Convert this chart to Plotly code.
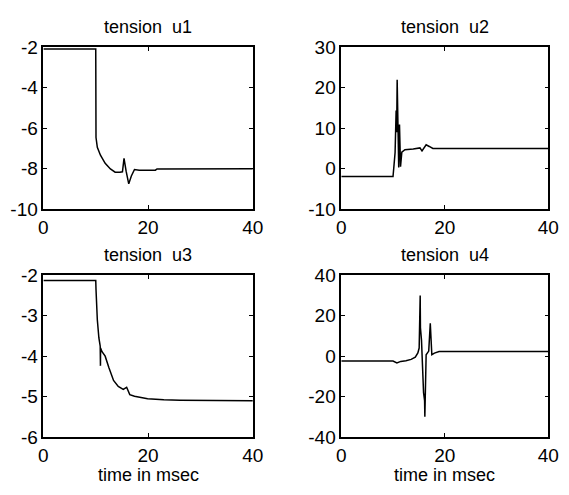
import plotly.graph_objects as go

# ---- data (time in msec, tension) ----
t1 = [0, 10.0, 10.05, 10.3, 10.9, 11.8, 12.8, 13.7, 14.6, 15.1, 15.4, 15.6, 15.8, 16.3, 16.8, 17.4, 18.3, 21.4, 21.7, 40]
u1 = [-2.08, -2.08, -6.46, -6.94, -7.33, -7.73, -8.01, -8.17, -8.17, -8.15, -7.49, -7.9, -8.12, -8.75, -8.36, -8.04, -8.07, -8.07, -8.01, -8.0]

t2 = [0, 10.0, 10.2, 10.4, 10.6, 10.7, 10.8, 11.0, 11.1, 11.25, 11.45, 11.7, 12.3, 13.9, 15.2, 15.6, 16.4, 17.0, 17.7, 40]
u2 = [-1.95, -1.95, 1.0, 4.0, 14.4, 9.0, 22.0, 3.0, 0.3, 10.9, 0.5, 4.1, 4.7, 4.9, 5.15, 4.4, 5.9, 5.5, 5.0, 5.0]

t3 = [0, 10.0, 10.05, 10.3, 10.6, 10.85, 10.9, 10.92, 11.2, 11.8, 12.5, 13.4, 14.3, 15.25, 15.9, 16.5, 17.4, 19.9, 23.0, 26.1, 40]
u3 = [-2.13, -2.13, -2.35, -3.1, -3.55, -3.75, -4.24, -3.8, -3.89, -4.0, -4.28, -4.6, -4.75, -4.82, -4.77, -4.95, -4.99, -5.05, -5.08, -5.09, -5.1]

t4 = [0, 10.0, 10.75, 11.5, 12.5, 13.5, 14.3, 14.8, 15.05, 15.1, 15.25, 15.3, 15.5, 15.9, 16.1, 16.15, 16.4, 16.9, 17.1, 17.2, 17.5, 18.0, 18.9, 40]
u4 = [-2.4, -2.4, -3.3, -2.6, -2.3, -1.6, -0.5, 1.6, 4.0, 15.5, 30.0, 14.0, 8.0, -18.0, -22.0, -30.0, 0.7, 2.5, 10.0, 16.3, 0.7, 1.5, 2.3, 2.3]

titles = ["tension  u1", "tension  u2", "tension  u3", "tension  u4"]
x_ticks = [0, 20, 40]
y_ranges = [[-10, -2], [-10, 30], [-6, -2], [-40, 40]]
y_ticks = [[-10, -8, -6, -4, -2], [-10, 0, 10, 20, 30], [-6, -5, -4, -3, -2], [-40, -20, 0, 20, 40]]
x_label = "time in msec"

series = [(t1, u1), (t2, u2), (t3, u3), (t4, u4)]

W, H = 569, 495
# frame boxes in pixels (left, right, top, bottom)
frames = [(39.5, 255, 39, 208), (346, 559, 39, 208), (39.5, 255, 277, 446), (346, 559, 277, 446)]

FONT = "Liberation Sans, Arial, sans-serif"
FS_TICK = 19
FS_TEXT = 18
fig = go.Figure()
layout = dict(
    width=W, height=H, margin=dict(l=0, r=0, t=0, b=0),
    paper_bgcolor="white", plot_bgcolor="white", showlegend=False,
    font=dict(family=FONT, size=FS_TICK, color="black"),
)
annotations = []
for i, ((tx, uy), (l, r, tp, bt)) in enumerate(zip(series, frames)):
    n = "" if i == 0 else str(i + 1)
    fig.add_trace(go.Scatter(x=tx, y=uy, mode="lines", xaxis="x" + n, yaxis="y" + n,
                             line=dict(color="black", width=1.5)))
    axcommon = dict(showline=True, linecolor="black", linewidth=1.5, mirror="ticks",
                    ticks="inside", ticklen=4, tickwidth=1, tickcolor="black",
                    showgrid=False, zeroline=False,
                    tickfont=dict(family=FONT, size=FS_TICK, color="black"))
    layout["xaxis" + n] = dict(axcommon, domain=[l / W, r / W], range=[0, 40],
                               tickvals=x_ticks, ticktext=[str(v) for v in x_ticks],
                               anchor="y" + n)
    layout["yaxis" + n] = dict(axcommon, domain=[1 - bt / H, 1 - tp / H], range=y_ranges[i],
                               tickvals=y_ticks[i], ticktext=[str(v) for v in y_ticks[i]],
                               anchor="x" + n)
    annotations.append(dict(text=titles[i], x=(l + r) / 2 / W, y=1 - (tp - 21) / H,
                            xref="paper", yref="paper", showarrow=False,
                            xanchor="center", yanchor="middle",
                            font=dict(family=FONT, size=FS_TEXT, color="black")))
    if i >= 2:
        annotations.append(dict(text=x_label, x=(l + r) / 2 / W, y=1 - 486 / H,
                                xref="paper", yref="paper", showarrow=False,
                                xanchor="center", yanchor="middle",
                                font=dict(family=FONT, size=FS_TEXT, color="black")))
layout["annotations"] = annotations
fig.update_layout(**layout)
fig.write_html("out.html", config={"displayModeBar": False},
               post_script="document.body.style.margin='0px';document.body.style.overflow='hidden';")
